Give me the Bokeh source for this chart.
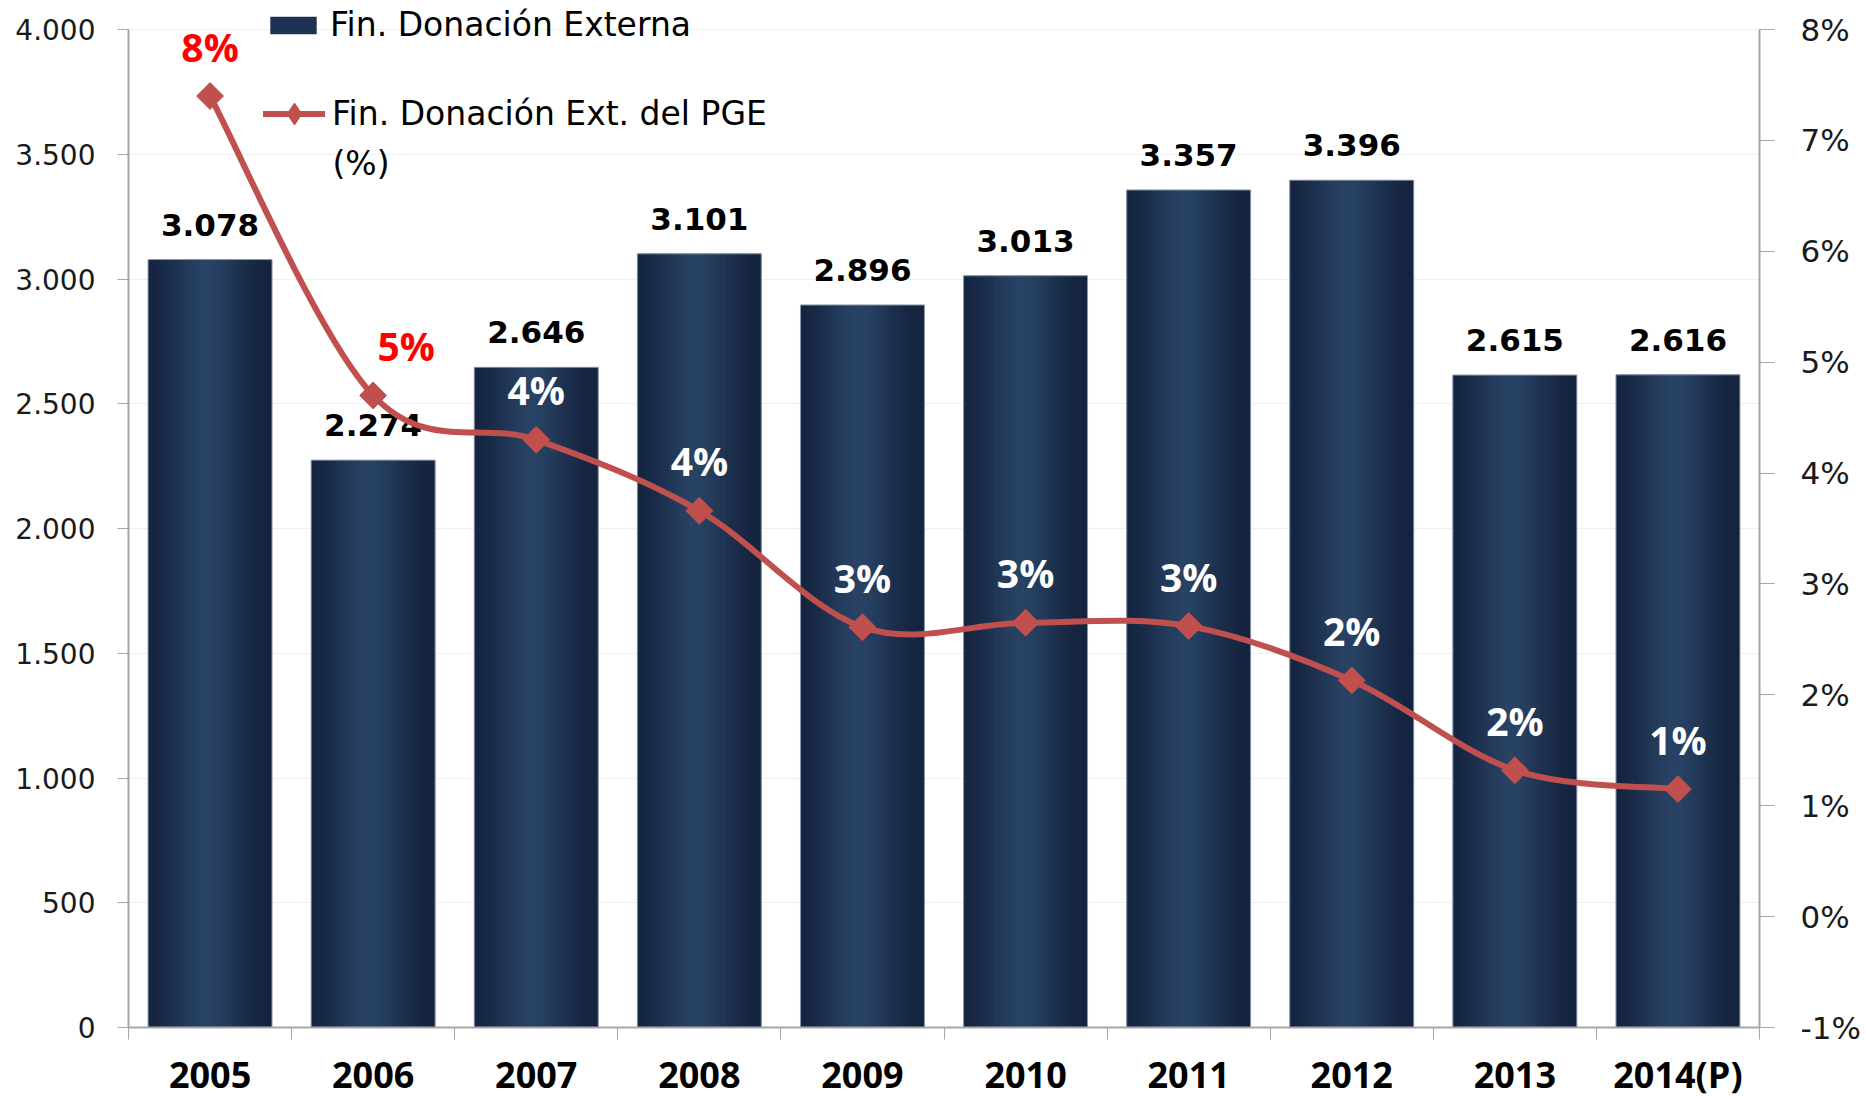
import numpy as np
from bokeh.plotting import figure
from bokeh.models import (Range1d, LinearAxis, FixedTicker, Legend, LegendItem, Label,
                          PrintfTickFormatter)
from bokeh.core.properties import value
from bokeh.embed import file_html
from bokeh.resources import INLINE

# ---------------- data ----------------
years = ["2005", "2006", "2007", "2008", "2009", "2010", "2011", "2012", "2013", "2014(P)"]
donacion = [3078, 2274, 2646, 3101, 2896, 3013, 3357, 3396, 2615, 2616]
pct_pge = [7.40, 4.70, 4.30, 3.66, 2.61, 2.65, 2.62, 2.13, 1.32, 1.15]
pct_labels = ["8%", "5%", "4%", "4%", "3%", "3%", "3%", "2%", "2%", "1%"]
left_ticks = [0, 500, 1000, 1500, 2000, 2500, 3000, 3500, 4000]
right_ticks = [-1, 0, 1, 2, 3, 4, 5, 6, 7, 8]
bar_name = "Fin. Donación Externa"
line_name = "Fin. Donación Ext. del PGE"
line_name2 = "(%)"

# ---------------- layout helpers ----------------
n = len(years)
xc = np.arange(n) + 0.5
FRAME_H = 1026          # frame height in px (frame starts at top of canvas)
AXIS_TOP = 29           # px from top where the axes end (4.000 / 8%)
scale_frac = FRAME_H / (FRAME_H - AXIS_TOP)
lmin, lmax = left_ticks[0], left_ticks[-1]
rmin, rmax = right_ticks[0], right_ticks[-1]

p = figure(width=1866, height=1101,
           x_range=Range1d(0, n),
           y_range=Range1d(lmin, lmin + (lmax - lmin) * scale_frac),
           output_backend="svg", toolbar_location=None,
           min_border_left=128, min_border_right=107, min_border_top=0, min_border_bottom=67)
p.extra_y_ranges = {"pct": Range1d(rmin, rmin + (rmax - rmin) * scale_frac)}
p.outline_line_color = None
p.background_fill_color = "white"
p.border_fill_color = "white"

AX = "#a6a6a6"

# x axis
xa = p.xaxis[0]
xa.ticker = FixedTicker(ticks=list(xc), minor_ticks=list(range(n + 1)))
xa.major_label_overrides = {float(x): y for x, y in zip(xc, years)}
xa.major_tick_out = 0
xa.major_tick_in = 0
xa.minor_tick_out = 12
xa.minor_tick_in = 0
xa.minor_tick_line_color = AX
xa.minor_tick_line_width = 1
xa.axis_line_color = AX
xa.axis_line_width = 2
xa.major_label_standoff = 10
xa.major_label_text_font = "Open Sans"
xa.major_label_text_font_style = "bold"
xa.major_label_text_font_size = "36px"
xa.major_label_text_color = "black"

# left axis
ya = p.yaxis[0]
ya.bounds = (lmin, lmax)
ya.ticker = FixedTicker(ticks=left_ticks, minor_ticks=[])
ya.major_label_overrides = {v: f"{v:,}".replace(",", ".") for v in left_ticks}
ya.major_tick_out = 11
ya.major_tick_in = 0
ya.major_tick_line_color = AX
ya.axis_line_color = AX
ya.axis_line_width = 2
ya.major_label_standoff = 22
ya.major_label_text_font = "DejaVu Sans"
ya.major_label_text_font_size = "28px"
ya.major_label_text_color = "#1a1a1a"

# right axis
ra = LinearAxis(y_range_name="pct", bounds=(rmin, rmax),
                ticker=FixedTicker(ticks=right_ticks, minor_ticks=[]),
                formatter=PrintfTickFormatter(format="%d%%"))
ra.major_tick_out = 15
ra.major_tick_in = 0
ra.major_tick_line_color = AX
ra.axis_line_color = AX
ra.axis_line_width = 2
ra.major_label_standoff = 26
ra.major_label_text_font = "DejaVu Sans"
ra.major_label_text_font_size = "31px"
ra.major_label_text_color = "#1a1a1a"
p.add_layout(ra, "right")

p.xgrid.visible = False
p.ygrid.ticker = FixedTicker(ticks=left_ticks)
p.ygrid.grid_line_color = "#efefef"
p.ygrid.grid_line_width = 1

# ---------------- bars (gradient made of strips) ----------------
W = 0.76
DARK = np.array([0x13, 0x22, 0x3d])
LIGHT = np.array([0x28, 0x42, 0x63])
base = p.vbar(x=xc, top=donacion, width=W, fill_color="#1d3253", line_color=None)
ns = 24
dw = W / ns
for k in range(ns):
    t = (k + 0.5) / ns
    f = np.exp(-((t - 0.47) / 0.30) ** 2)
    c = DARK + (LIGHT - DARK) * f
    col = "#%02x%02x%02x" % tuple(int(round(v)) for v in c)
    left = xc - W / 2 + k * dw
    right = xc - W / 2 + min((k + 1.6) * dw, W)
    p.quad(left=left, right=right, bottom=0, top=donacion, fill_color=col, line_color=None)
p.vbar(x=xc, top=donacion, width=W, fill_color=None, line_color="#8a98ad", line_width=1)

# bar value labels
p.text(x=xc, y=donacion, text=[f"{v:,}".replace(",", ".") for v in donacion],
       text_font=value("DejaVu Sans"), text_font_style="bold", text_font_size="31px",
       text_color="black", text_align="center", text_baseline="middle", y_offset=-35)

# ---------------- smoothed line ----------------
P = np.column_stack([xc, pct_pge])
Pm = np.vstack([P[0], P, P[-1]])
x0, y0, x1, y1, cx0, cy0, cx1, cy1 = ([] for _ in range(8))
for i in range(n - 1):
    a, b, c_, d = Pm[i], Pm[i + 1], Pm[i + 2], Pm[i + 3]
    c0 = b + (c_ - a) / 6
    c1 = c_ - (d - b) / 6
    x0.append(b[0]); y0.append(b[1]); x1.append(c_[0]); y1.append(c_[1])
    cx0.append(c0[0]); cy0.append(c0[1]); cx1.append(c1[0]); cy1.append(c1[1])
RED = "#c0504d"
ln = p.bezier(x0=x0, y0=y0, x1=x1, y1=y1, cx0=cx0, cy0=cy0, cx1=cx1, cy1=cy1,
              y_range_name="pct", line_color=RED, line_width=6, line_cap="round")
# diamond markers (used by the legend), covered by the rotated squares on the plot
mk_leg = p.scatter(x=xc, y=pct_pge, marker="diamond", size=20,
                   fill_color=RED, line_color=RED, y_range_name="pct")
mk = p.scatter(x=xc, y=pct_pge, marker="square", angle=np.pi / 4, size=19,
               fill_color=RED, line_color=RED, y_range_name="pct")

lab_colors = ["#ff0000", "#ff0000"] + ["white"] * (n - 2)
lab_xoff = [0, 33] + [0] * (n - 2)
p.text(x=xc, y=pct_pge, text=pct_labels, y_range_name="pct",
       text_font=value("Open Sans"), text_font_style="bold", text_font_size="39px",
       text_color=lab_colors, text_align="center", text_baseline="middle",
       x_offset=lab_xoff, y_offset=-50)

# ---------------- legends ----------------
leg1 = Legend(items=[LegendItem(label=bar_name, renderers=[base])],
              location=(136, 983), glyph_width=58, glyph_height=22, label_standoff=8,
              padding=0, margin=0, border_line_color=None, background_fill_alpha=0,
              label_text_font="DejaVu Sans", label_text_font_size="33px", label_text_color="black")
leg2 = Legend(items=[LegendItem(label=line_name, renderers=[ln, mk_leg])],
              location=(135, 886), glyph_width=62, glyph_height=55, label_standoff=7,
              padding=0, margin=0, border_line_color=None, background_fill_alpha=0,
              label_text_font="DejaVu Sans", label_text_font_size="33px", label_text_color="black")
p.add_layout(leg1)
p.add_layout(leg2)
p.add_layout(Label(x=204, y=864, x_units="screen", y_units="screen", text=line_name2,
                   text_font="DejaVu Sans", text_font_size="33px", text_color="black",
                   text_baseline="middle"))

open("out.html", "w").write(file_html(p, INLINE))
